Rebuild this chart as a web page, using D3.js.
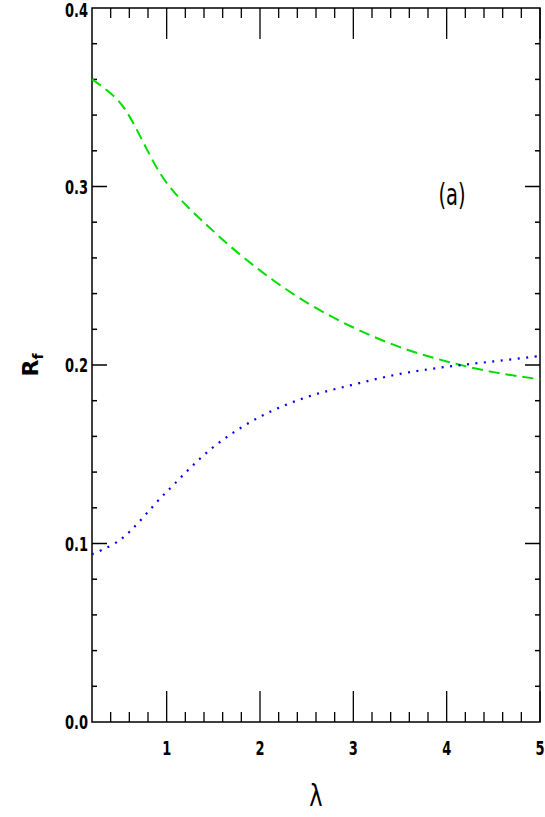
<!DOCTYPE html><html><head><script src="https://cdn.jsdelivr.net/npm/d3@7"></script>
<style>body{margin:0;background:#fff}text{font-family:"DejaVu Sans",sans-serif}</style></head><body>
<svg id="c" width="545" height="817"></svg>
<script>
const lambda=[0.2,0.5,1,1.5,2,2.5,3,3.5,4,4.5,5];
const green=[0.360,0.347,0.302,0.275,0.253,0.235,0.221,0.210,0.202,0.196,0.192];
const blue=[0.094,0.102,0.129,0.154,0.171,0.182,0.189,0.195,0.199,0.202,0.205];
const xTicks=[1,2,3,4,5], yTicks=[0.0,0.1,0.2,0.3,0.4];
const svg=d3.select("#c");
const L=92,R=540,T=8,B=722;
const x=d3.scaleLinear().domain([0.2,5]).range([L,R]);
const y=d3.scaleLinear().domain([0,0.4]).range([B,T]);
const g=svg.append("g");
g.append("rect").attr("x",L).attr("y",T).attr("width",R-L).attr("height",B-T).attr("fill","none").attr("stroke","#000").attr("stroke-width",1.5);
const xm=d3.range(0.4,5.001,0.2);
xm.forEach(v=>{const maj=Math.abs(v-Math.round(v))<1e-6;const len=maj?31:10;
 g.append("line").attr("x1",x(v)).attr("x2",x(v)).attr("y1",B).attr("y2",B-len).attr("stroke","#000").attr("stroke-width",1.3);
 g.append("line").attr("x1",x(v)).attr("x2",x(v)).attr("y1",T).attr("y2",T+len).attr("stroke","#000").attr("stroke-width",1.3);});
d3.range(0.02,0.4,0.02).forEach(v=>{const maj=Math.abs(v*10-Math.round(v*10))<1e-6;const len=maj?15:5;
 g.append("line").attr("x1",L).attr("x2",L+len).attr("y1",y(v)).attr("y2",y(v)).attr("stroke","#000").attr("stroke-width",1.5);
 g.append("line").attr("x1",R).attr("x2",R-len).attr("y1",y(v)).attr("y2",y(v)).attr("stroke","#000").attr("stroke-width",1.5);});
xTicks.forEach(v=>g.append("text").attr("transform",`translate(${x(v)},${B+33}) scale(0.65,1)`).attr("text-anchor","middle").attr("font-size",20).attr("font-weight","bold").text(v));
yTicks.forEach(v=>g.append("text").attr("transform",`translate(${L-4},${Math.max(y(v)+7,17)}) scale(0.65,1)`).attr("text-anchor","end").attr("font-size",20).attr("font-weight","bold").text(v.toFixed(1)));
const line=d3.line().x((d,i)=>x(lambda[i])).y(d=>y(d)).curve(d3.curveCatmullRom);
g.append("path").attr("d",line(green)).attr("fill","none").attr("stroke","#00dd00").attr("stroke-width",2).attr("stroke-dasharray","11,6");
g.append("path").attr("d",line(blue)).attr("fill","none").attr("stroke","#0000ee").attr("stroke-width",2.2).attr("stroke-dasharray","2,6.5");
g.append("text").attr("transform","translate(452,205) scale(0.65,1)").attr("text-anchor","middle").attr("font-size",30).text("(a)");
g.append("text").attr("transform","translate(316,806) scale(0.75,1)").attr("text-anchor","middle").attr("font-size",30).text("λ");
const yl=g.append("text").attr("transform","translate(38,365) rotate(-90)").attr("text-anchor","middle").attr("font-family","DejaVu Serif").attr("font-weight","bold").attr("font-size",22);
yl.append("tspan").text("R");yl.append("tspan").attr("font-size",14).attr("dy",5).text("f");
</script></body></html>
